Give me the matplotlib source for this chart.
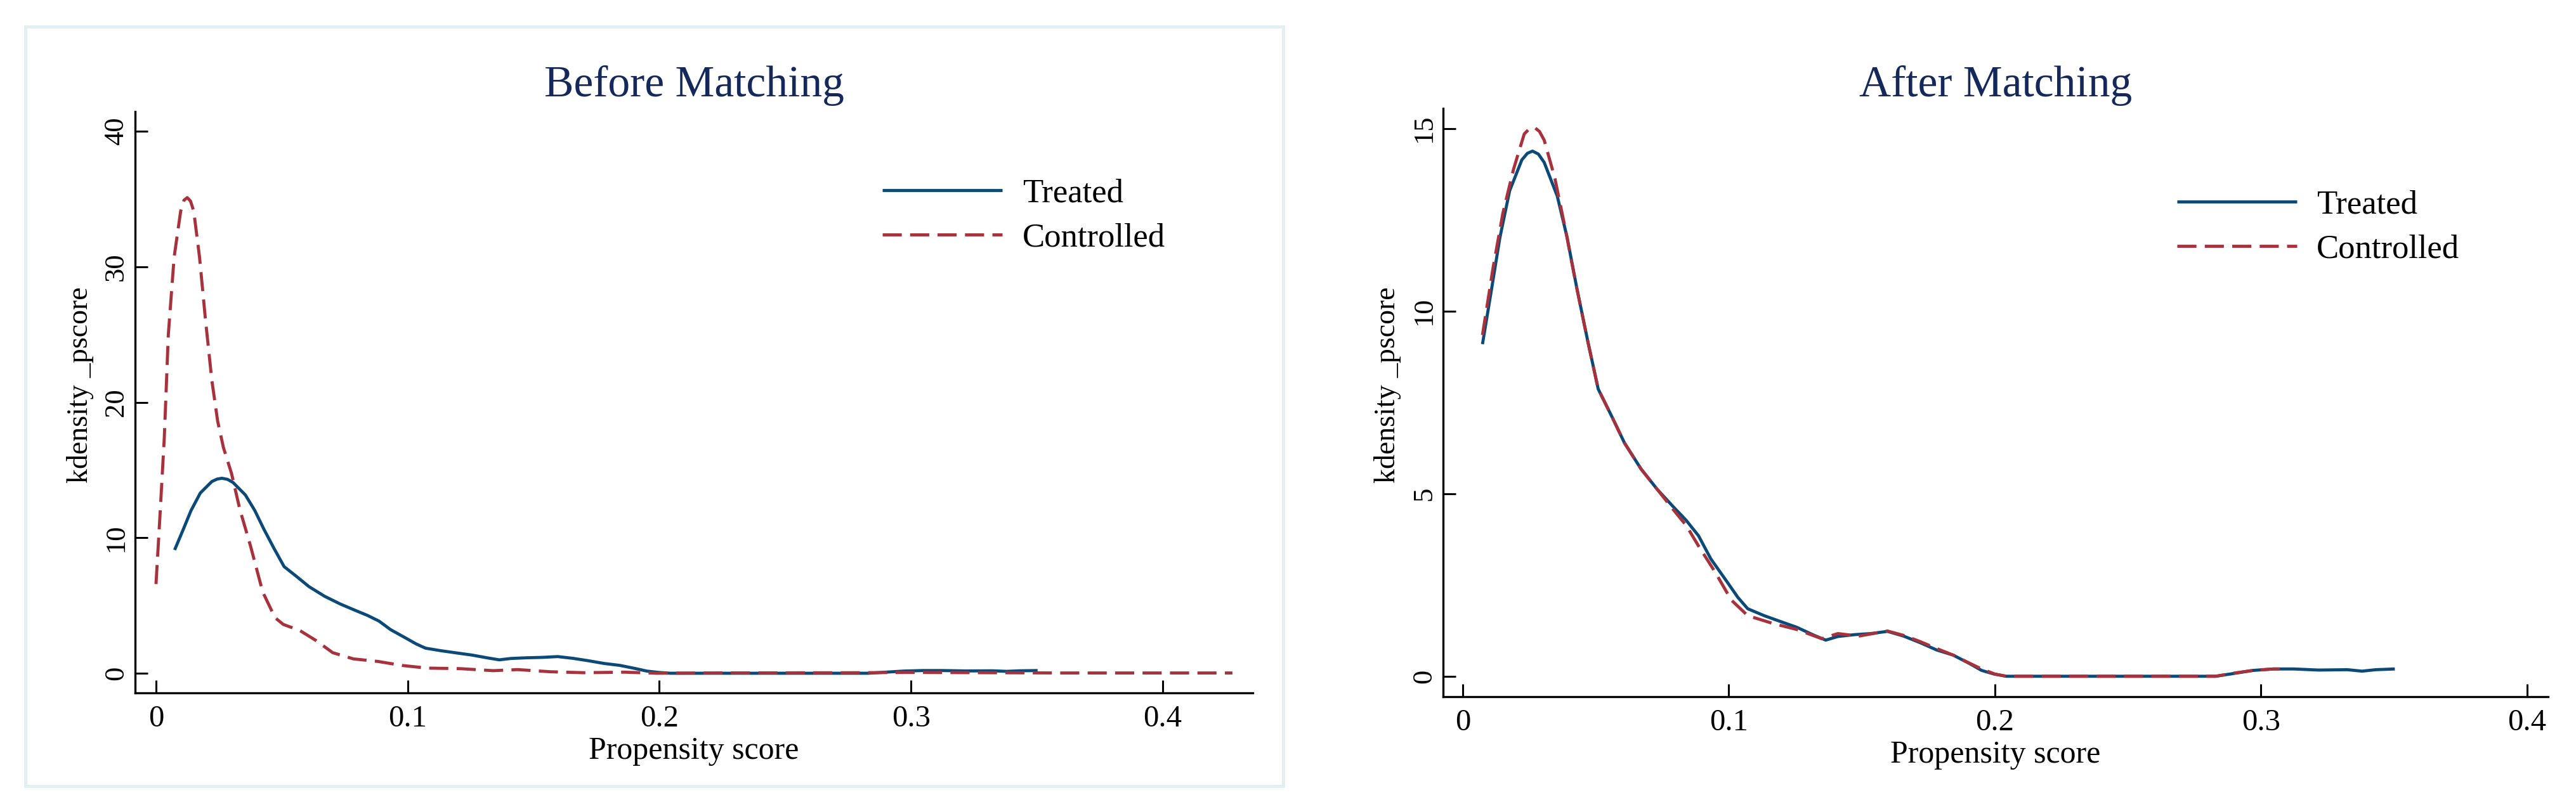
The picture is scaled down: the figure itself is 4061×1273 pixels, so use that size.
import matplotlib
matplotlib.use('Agg')
import matplotlib.pyplot as plt
import matplotlib.patches as patches

plt.rcParams['font.family'] = ['Liberation Serif', 'DejaVu Serif']

# treated group: kernel density of the propensity score (same in both panels)
treated_x = [0.0074, 0.0108, 0.0139, 0.0176, 0.0222, 0.0243, 0.0262, 0.0284, 0.0306, 0.0355,
             0.0392, 0.0429, 0.0469, 0.0509, 0.0562, 0.0608, 0.0670, 0.0731, 0.0793, 0.0840,
             0.0886, 0.0932, 0.0994, 0.1034, 0.1071, 0.1133, 0.1194, 0.1256, 0.1318,
             0.1364, 0.1410, 0.1472, 0.1534, 0.1596, 0.1657, 0.1719, 0.1781, 0.1843,
             0.1904, 0.1950, 0.1997, 0.2043, 0.2830, 0.2892, 0.2970, 0.3047, 0.3123,
             0.3216, 0.3324, 0.3380, 0.3432, 0.3503]
treated_y = [9.10, 10.60, 12.00, 13.30, 14.15, 14.33, 14.39, 14.31, 14.08, 13.16,
             12.03, 10.62, 9.21, 7.87, 7.09, 6.39, 5.68, 5.12, 4.63, 4.27,
             3.85, 3.22, 2.58, 2.16, 1.85, 1.66, 1.50, 1.34, 1.13,
             0.99, 1.09, 1.14, 1.17, 1.23, 1.10, 0.92, 0.72, 0.58,
             0.35, 0.16, 0.06, 0.00, 0.00, 0.07, 0.16, 0.20, 0.20,
             0.17, 0.18, 0.14, 0.18, 0.20]

# control group before matching
ctrl_before_x = [0.0000, 0.0016, 0.0033, 0.0049, 0.0072, 0.0098, 0.0111, 0.0124, 0.0137, 0.0150,
                 0.0173, 0.0196, 0.0222, 0.0245, 0.0268, 0.0300, 0.0333, 0.0375, 0.0424, 0.0473,
                 0.0506, 0.0571, 0.0637, 0.0702, 0.0784, 0.0882, 0.0980, 0.1077, 0.1208,
                 0.1340, 0.1437, 0.1567, 0.1700, 0.1860, 0.1990, 0.2200, 0.2500, 0.2800,
                 0.3000, 0.3300, 0.3600, 0.4000, 0.4277]
ctrl_before_y = [6.58, 11.70, 17.40, 25.00, 30.70, 34.10, 34.90, 35.10, 34.85, 34.10,
                 30.70, 26.20, 21.60, 18.60, 16.65, 14.75, 12.10, 9.43, 6.00, 4.10,
                 3.60, 3.16, 2.40, 1.52, 1.06, 0.87, 0.57, 0.38, 0.34,
                 0.19, 0.27, 0.11, 0.04, 0.08, 0.00, 0.02, 0.03, 0.04,
                 0.06, 0.04, 0.02, 0.02, 0.02]

# control group after matching
ctrl_after_x = [0.0074, 0.0114, 0.0151, 0.0191, 0.0231, 0.0250, 0.0269, 0.0288, 0.0306, 0.0346,
                0.0386, 0.0423, 0.0469, 0.0509, 0.0562, 0.0608, 0.0670, 0.0731, 0.0793, 0.0840,
                0.0886, 0.0948, 0.1009, 0.1071, 0.1164, 0.1256, 0.1349, 0.1410, 0.1488,
                0.1596, 0.1657, 0.1719, 0.1781, 0.1843, 0.1904, 0.1950, 0.2000, 0.2043,
                0.2830, 0.2892, 0.2970, 0.3047, 0.3100]
ctrl_after_y = [9.35, 11.20, 12.70, 13.90, 14.86, 15.00, 15.04, 14.93, 14.69, 13.65,
                12.24, 10.83, 9.20, 7.87, 7.09, 6.39, 5.68, 5.12, 4.55, 4.13,
                3.57, 2.86, 2.09, 1.66, 1.45, 1.28, 1.03, 1.17, 1.10,
                1.24, 1.12, 0.95, 0.76, 0.58, 0.36, 0.20, 0.06, 0.00,
                0.00, 0.08, 0.16, 0.20, 0.20]

panel_titles = ['Before Matching', 'After Matching']
x_ticks = [0, 0.1, 0.2, 0.3, 0.4]
x_ticklabels = ['0', '0.1', '0.2', '0.3', '0.4']
left_yticks = [0, 10, 20, 30, 40]
right_yticks = [0, 5, 10, 15]

BLUE = '#0b4a78'
RED = '#a8323c'
NAVY = '#14295a'
W, H = 4061, 1273

fig = plt.figure(figsize=(W / 100, H / 100), dpi=100)
fig.patch.set_facecolor('white')

# light frame round the left graph
fig.add_artist(patches.Rectangle((39.5 / W, 1 - 1240 / H), (2023 - 39.5) / W, (1240 - 41.5) / H,
                                 transform=fig.transFigure, fill=False,
                                 ec='#e3eff0', lw=3.6))

ax1 = fig.add_axes([213 / W, 1 - 1093 / H, (1975 - 213) / W, (1093 - 176) / H])
ax2 = fig.add_axes([2275 / W, 1 - 1099 / H, (4017 - 2275) / W, (1099 - 171) / H])

lw = 3.5
dash = (6.2, 2.7)

ax1.plot(treated_x, treated_y, color=BLUE, lw=lw, label='Treated', solid_capstyle='butt',
         solid_joinstyle='round')
ax1.plot(ctrl_before_x, ctrl_before_y, color=RED, lw=lw, dashes=dash, label='Controlled')
ax2.plot(treated_x, treated_y, color=BLUE, lw=lw, label='Treated', solid_capstyle='butt',
         solid_joinstyle='round')
ax2.plot(ctrl_after_x, ctrl_after_y, color=RED, lw=lw, dashes=dash, label='Controlled')

ax1.set_xlim(-0.0083, 0.4358)
ax1.set_ylim(-1.45, 41.45)
ax2.set_xlim(-0.0074, 0.4079)
ax2.set_ylim(-0.56, 15.56)
ax1.set_yticks(left_yticks)
ax2.set_yticks(right_yticks)

title_x = [1094 / W, 3146 / W]
label_x = [-65 / 1762, -66 / 1742]
for ax, title, tx, lx in zip([ax1, ax2], panel_titles, title_x, label_x):
    for s in ['top', 'right']:
        ax.spines[s].set_visible(False)
    for s in ['left', 'bottom']:
        ax.spines[s].set_linewidth(2.4)
    ax.set_xticks(x_ticks)
    ax.set_xticklabels(x_ticklabels)
    ax.tick_params(axis='both', direction='in', length=14.5, width=2.2)
    ax.tick_params(axis='x', labelsize=35, pad=14)
    ax.tick_params(axis='y', labelsize=32, pad=7, labelrotation=90)
    for lab in ax.get_yticklabels():
        lab.set_verticalalignment('center')
    ax.set_xlabel('Propensity score', fontsize=36, labelpad=4)
    ax.set_ylabel('kdensity _pscore', fontsize=33)
    ax.yaxis.set_label_coords(lx, 0.53)
    fig.text(tx, 1 - 152 / H, title, fontsize=50, color=NAVY, ha='center', va='baseline')

leg_kw = dict(frameon=False, fontsize=38, handlelength=3.58, handletextpad=0.6,
              labelspacing=0.42, borderpad=0, borderaxespad=0, loc='upper left')
ax1.legend(bbox_to_anchor=(0.6686, 0.885), **leg_kw)
ax2.legend(bbox_to_anchor=(0.664, 0.862), **leg_kw)

fig.savefig('out.png', dpi=100, facecolor='white')
